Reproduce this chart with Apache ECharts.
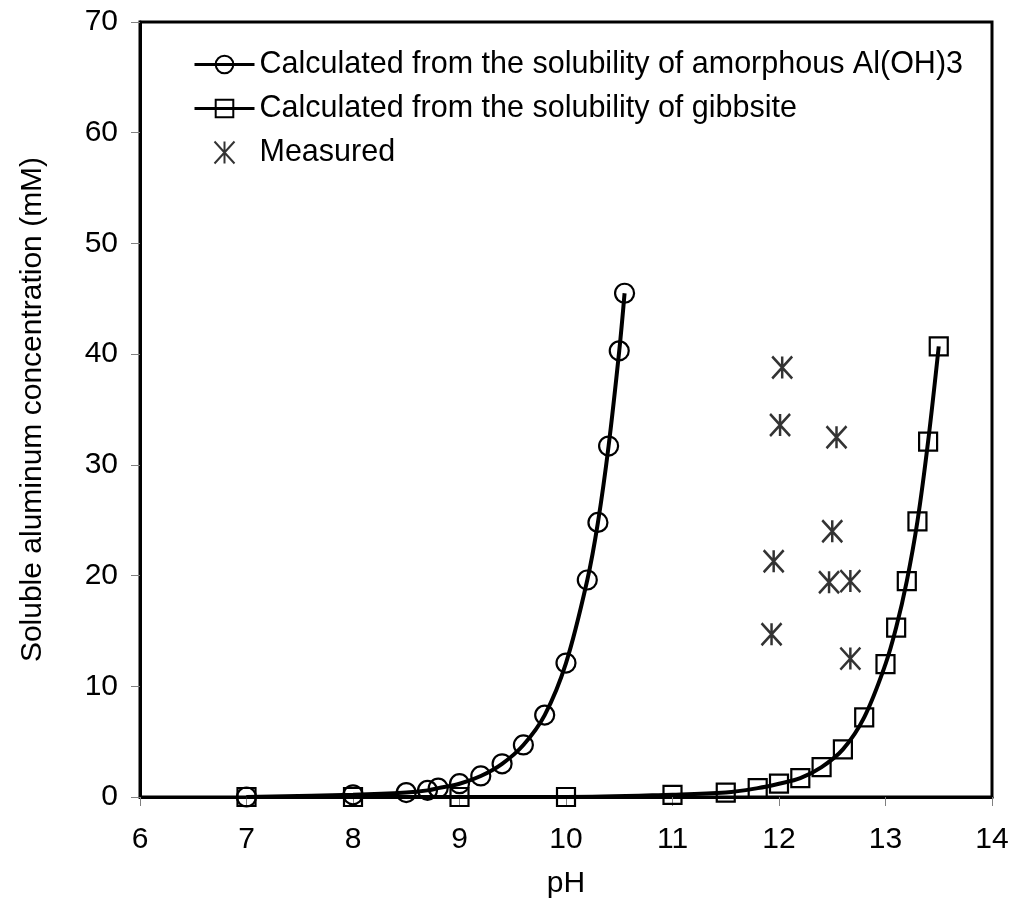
<!DOCTYPE html>
<html>
<head>
<meta charset="utf-8">
<script src="https://cdn.jsdelivr.net/npm/echarts@6/dist/echarts.min.js"></script>
<style>
html,body{margin:0;padding:0;background:#fff;}
#chart{width:1015px;height:915px;}
</style>
</head>
<body>
<div id="chart"></div>
<script>
// Amorphous Al(OH)3 calculated curve
const phAmorphous = [7, 8, 8.5, 8.7, 8.8, 9.0, 9.2, 9.4, 9.6, 9.8, 10.0, 10.2, 10.3, 10.4, 10.5, 10.55];
const alAmorphous = [0, 0.2, 0.4, 0.6, 0.8, 1.2, 1.9, 3.0, 4.7, 7.4, 12.1, 19.6, 24.8, 31.7, 40.3, 45.5];
// Gibbsite calculated curve
const phGibbsite = [7, 8, 9, 10, 11, 11.5, 11.8, 12.0, 12.2, 12.4, 12.6, 12.8, 13.0, 13.1, 13.2, 13.3, 13.4, 13.5];
const alGibbsite = [0, 0, 0, 0, 0.2, 0.4, 0.8, 1.2, 1.7, 2.7, 4.3, 7.2, 12.0, 15.3, 19.5, 24.9, 32.1, 40.7];
// Measured
const phMeasured = [12.03, 12.01, 12.54, 12.50, 11.95, 12.47, 12.67, 11.93, 12.67];
const alMeasured = [38.8, 33.6, 32.5, 24.0, 21.3, 19.4, 19.5, 14.7, 12.5];

const seriesNames = [
  'Calculated from the solubility of amorphous Al(OH)3',
  'Calculated from the solubility of gibbsite',
  'Measured'
];
const xName = 'pH';
const yName = 'Soluble aluminum concentration (mM)';

const zip = (xs, ys) => xs.map((x, i) => [x, ys[i]]);
const FONT = 'Arial, "Liberation Sans", sans-serif';
const ASTERISK = 'path://M0,0L20,22M20,0L0,22M10,0L10,22';

const chart = echarts.init(document.getElementById('chart'), null, {renderer: 'canvas'});
chart.setOption({
  backgroundColor: '#fff',
  animation: false,
  grid: {left: 140, right: 23, top: 22, bottom: 118, show: true, borderColor: '#000', borderWidth: 3, backgroundColor: 'transparent'},
  legend: {
    left: 188, top: 44, orient: 'vertical',
    itemWidth: 60, itemHeight: 22, itemGap: 13,
    lineStyle: {width: 3, color: '#000'},
    textStyle: {fontFamily: FONT, fontSize: 30.5, color: '#000', lineHeight: 31},
    data: seriesNames
  },
  xAxis: {
    type: 'value', min: 6, max: 14, interval: 1,
    name: xName, nameLocation: 'middle', nameGap: 72,
    nameTextStyle: {fontFamily: FONT, fontSize: 30, color: '#000'},
    axisLine: {show: true, lineStyle: {color: '#000', width: 3}},
    axisTick: {show: true, length: 9, lineStyle: {color: '#808080', width: 1}},
    axisLabel: {fontFamily: FONT, fontSize: 30, color: '#000', margin: 28},
    splitLine: {show: false}
  },
  yAxis: {
    type: 'value', min: 0, max: 70, interval: 10,
    name: yName, nameLocation: 'middle', nameGap: 92,
    nameTextStyle: {fontFamily: FONT, fontSize: 30, color: '#000'},
    axisLine: {show: true, lineStyle: {color: '#000', width: 3}},
    axisTick: {show: true, length: 9, lineStyle: {color: '#808080', width: 1}},
    axisLabel: {fontFamily: FONT, fontSize: 30, color: '#000', margin: 22},
    splitLine: {show: false}
  },
  series: [
    {
      name: seriesNames[0], type: 'line', smooth: 0.35,
      data: zip(phAmorphous, alAmorphous),
      symbol: 'circle', symbolSize: 19, showAllSymbol: true,
      lineStyle: {color: '#000', width: 4},
      itemStyle: {color: 'rgba(0,0,0,0)', borderColor: '#000', borderWidth: 2.2},
      clip: false
    },
    {
      name: seriesNames[1], type: 'line', smooth: 0.35,
      data: zip(phGibbsite, alGibbsite),
      symbol: 'rect', symbolSize: 18, showAllSymbol: true,
      lineStyle: {color: '#000', width: 4},
      itemStyle: {color: 'rgba(0,0,0,0)', borderColor: '#000', borderWidth: 2.2},
      clip: false
    },
    {
      name: seriesNames[2], type: 'scatter',
      data: zip(phMeasured, alMeasured),
      symbol: ASTERISK, symbolSize: [20, 22],
      itemStyle: {color: 'rgba(0,0,0,0)', borderColor: '#000', borderWidth: 2.6}
    }
  ]
});
</script>
</body>
</html>
